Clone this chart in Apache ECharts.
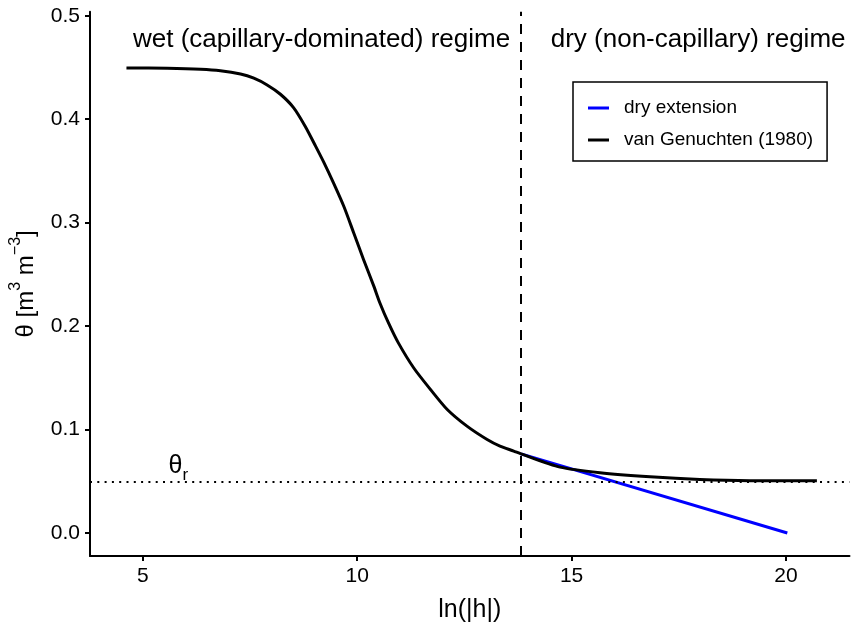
<!DOCTYPE html>
<html><head><meta charset="utf-8">
<script src="https://cdn.jsdelivr.net/npm/echarts@6/dist/echarts.min.js"></script>
<style>html,body{margin:0;padding:0;background:#fff}#c{width:851px;height:628px}</style>
</head><body><div id="c"></div>
<script>
// van Genuchten curve: [ln|h|, theta]
const vgCurve = [[4.62,0.4495],[5.57,0.4492],[6.35,0.4483],[6.81,0.4469],[7.28,0.4437],[7.59,0.4396],[7.90,0.4331],[8.21,0.4241],[8.52,0.411],[8.79,0.393],[9.03,0.374],[9.22,0.3585],[9.45,0.3382],[9.69,0.3156],[9.92,0.2900],[10.15,0.2642],[10.39,0.2384],[10.53,0.2224],[10.73,0.2031],[10.96,0.1838],[11.32,0.1595],[11.71,0.1387],[12.10,0.1194],[12.56,0.1033],[13.03,0.0904],[13.33,0.084],[13.65,0.0792],[13.82,0.0765],[14.73,0.0637],[15.66,0.0583],[16.83,0.0544],[17.99,0.0518],[19.16,0.0506],[20.72,0.0505]];
const dryExtension = [[13.82,0.0765],[20.03,0.0]];
const regimeBoundary = 13.82;
const thetaR = 0.05;
const xTicks = [5,10,15,20];
const yTicks = [0,0.1,0.2,0.3,0.4,0.5];
const annotations = [
  {name:'wet (capillary-dominated) regime', value:[9.17,0.4765]},
  {name:'dry (non-capillary) regime', value:[17.95,0.4765]}
];
const thetaRLabel = {value:[5.83,0.062]};

const FONT = 'Liberation Sans';
const INK = '#000';
const chart = echarts.init(document.getElementById('c'));
chart.setOption({
  animation:false,
  textStyle:{fontFamily:FONT},
  grid:{left:89.5,right:1.5,top:11.7,bottom:71.3},
  xAxis:{type:'value',min:3.77,max:21.48,
    name:'ln(|h|)',nameLocation:'middle',nameGap:42,
    nameTextStyle:{fontSize:25,color:INK,fontFamily:FONT},
    axisLine:{show:true,onZero:false,lineStyle:{color:'#000',width:2}},
    axisTick:{show:true,length:5,lineStyle:{color:'#000',width:2},customValues:xTicks},
    axisLabel:{fontSize:21,color:INK,margin:10,customValues:xTicks,formatter:v=>String(v)},
    splitLine:{show:false}},
  yAxis:{type:'value',min:-0.0222,max:0.5039,
    name:'{a|θ [m}{s|3}{a| m}{s|−3}{a|]}',nameLocation:'middle',nameGap:52,nameRotate:90,
    nameTextStyle:{rich:{a:{fontSize:24,color:INK,fontFamily:FONT,lineHeight:30,verticalAlign:'bottom'},
                         s:{fontSize:16,color:INK,fontFamily:FONT,verticalAlign:'top',lineHeight:30}}},
    axisLine:{show:true,onZero:false,lineStyle:{color:'#000',width:2}},
    axisTick:{show:true,length:5,lineStyle:{color:'#000',width:2},customValues:yTicks},
    axisLabel:{fontSize:21,color:INK,margin:10,customValues:yTicks,formatter:v=>v.toFixed(1)},
    splitLine:{show:false}},
  legend:{data:['dry extension','van Genuchten (1980)'],orient:'vertical',left:573,top:82,
    icon:'rect',itemWidth:21,itemHeight:3,itemGap:10,
    padding:[15,14,10,15],borderColor:'#000',borderWidth:1.5,backgroundColor:'#fff',
    textStyle:{fontSize:19,color:INK,lineHeight:22,padding:[0,0,0,10],fontFamily:FONT}},
  series:[
    {name:'dry extension',type:'line',data:dryExtension,showSymbol:false,symbol:'none',
     lineStyle:{color:'#0000ff',width:3},itemStyle:{color:'#0000ff'},z:3},
    {name:'van Genuchten (1980)',type:'line',data:vgCurve,showSymbol:false,symbol:'none',smooth:0.25,
     lineStyle:{color:'#000',width:3,join:'round'},itemStyle:{color:'#000'},z:4,
     markLine:{silent:true,symbol:'none',label:{show:false},
       data:[{xAxis:regimeBoundary,lineStyle:{type:[10,8],color:'#000',width:2}},
             {yAxis:thetaR,lineStyle:{type:[2,5.3],color:'#000',width:2}}]}},
    {name:'annot',type:'scatter',symbolSize:0,data:annotations,silent:true,itemStyle:{opacity:1},
     label:{show:true,position:'inside',opacity:1,formatter:p=>p.name,fontSize:26,color:INK,fontFamily:FONT}},
    {name:'thetar',type:'scatter',symbolSize:0,data:[thetaRLabel],silent:true,itemStyle:{opacity:1},
     label:{show:true,position:'inside',opacity:1,formatter:'{t|θ}{s|r}',
       rich:{t:{fontSize:25,color:INK,fontFamily:FONT,verticalAlign:'top',lineHeight:30},
             s:{fontSize:17,color:INK,fontFamily:FONT,verticalAlign:'bottom',lineHeight:30}}}}
  ]
});
</script></body></html>
